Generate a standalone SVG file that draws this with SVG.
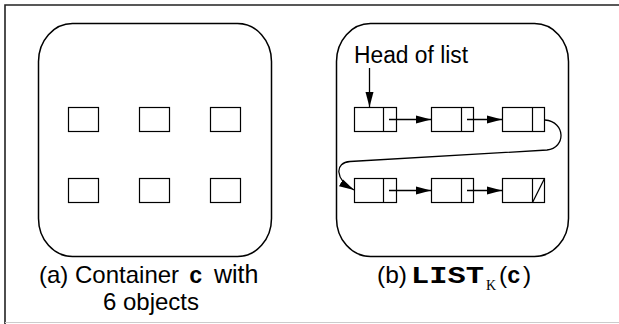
<svg xmlns="http://www.w3.org/2000/svg" width="619" height="324" viewBox="0 0 619 324">
<defs>
<style>
.frame{fill:none;stroke:#222;stroke-width:1.6}
.cont{fill:none;stroke:#000;stroke-width:1.5}
.box{fill:#fff;stroke:#000;stroke-width:1.2}
.ln{fill:none;stroke:#000;stroke-width:1.2}
.conn{fill:none;stroke:#000;stroke-width:1.3}
.sans{font-family:"Liberation Sans",Arial,sans-serif;fill:#000}
.mono{font-family:"Liberation Mono","Courier New",monospace;font-weight:bold;fill:#000}
.serif{font-family:"Liberation Serif","Times New Roman",serif;fill:#000}
</style>
<marker id="ah" markerUnits="userSpaceOnUse" markerWidth="16" markerHeight="10" refX="15" refY="5" orient="auto">
<path d="M0,1 L15,5 L0,9 Z" fill="#000"/>
</marker>
</defs>
<rect width="619" height="324" fill="#fff"/>
<g id="frame">
<path class="frame" d="M5,324 V5 H619"/>
<line x1="5" y1="322.5" x2="619" y2="322.5" stroke="#ccc" stroke-width="1"/>
</g>

<g id="container-a">
<rect class="cont" x="38.5" y="23.5" width="233" height="233" rx="34" ry="38"/>
</g>
<g id="objects-a">
<rect id="obj1" class="box" x="68.5" y="107.5" width="30" height="24"/>
<rect id="obj2" class="box" x="139.5" y="107.5" width="30" height="24"/>
<rect id="obj3" class="box" x="210.5" y="107.5" width="30" height="24"/>
<rect id="obj4" class="box" x="68.5" y="178.5" width="30" height="24"/>
<rect id="obj5" class="box" x="139.5" y="178.5" width="30" height="24"/>
<rect id="obj6" class="box" x="210.5" y="178.5" width="30" height="24"/>
</g>
<g id="caption-a">
<text class="sans" font-size="24" y="283"><tspan x="39">(a) Container</tspan><tspan class="mono" x="189" font-size="23">c</tspan><tspan x="214" font-size="25">with</tspan></text>
<text class="sans" font-size="24" x="151" y="310" text-anchor="middle">6 objects</text>
</g>

<g id="container-b">
<rect class="cont" x="336.5" y="23.5" width="232" height="233" rx="34" ry="38"/>
</g>
<g id="head-label">
<text class="sans" font-size="23" x="354" y="63" textLength="114" lengthAdjust="spacingAndGlyphs">Head of list</text>
</g>
<g id="node1"><rect class="box" x="354.5" y="107.5" width="42" height="24"/><line class="ln" x1="383.5" y1="107.5" x2="383.5" y2="131.5"/></g>
<g id="node2"><rect class="box" x="431.5" y="107.5" width="42" height="24"/><line class="ln" x1="461.5" y1="107.5" x2="461.5" y2="131.5"/></g>
<g id="node3"><rect class="box" x="502.5" y="107.5" width="42" height="24"/><line class="ln" x1="532.5" y1="107.5" x2="532.5" y2="131.5"/></g>
<g id="node4"><rect class="box" x="354.5" y="178.5" width="42" height="24"/><line class="ln" x1="383.5" y1="178.5" x2="383.5" y2="202.5"/></g>
<g id="node5"><rect class="box" x="431.5" y="178.5" width="42" height="24"/><line class="ln" x1="461.5" y1="178.5" x2="461.5" y2="202.5"/></g>
<g id="node6"><rect class="box" x="502.5" y="178.5" width="42" height="24"/><line class="ln" x1="532.5" y1="178.5" x2="532.5" y2="202.5"/><line class="ln" x1="532.5" y1="202.5" x2="544.5" y2="178.5"/></g>

<g id="connectors">
<line class="conn" x1="369.5" y1="68" x2="369.5" y2="107" marker-end="url(#ah)"/>
<line class="conn" x1="389" y1="119.5" x2="431" y2="119.5" marker-end="url(#ah)"/>
<line class="conn" x1="467" y1="119.5" x2="502" y2="119.5" marker-end="url(#ah)"/>
<path class="conn" d="M545,120 C566,122 566,148 547,150 L350,161.5 C335,162.5 334,179 354,190" marker-end="url(#ah)"/>
<line class="conn" x1="389" y1="190.5" x2="431" y2="190.5" marker-end="url(#ah)"/>
<line class="conn" x1="467" y1="190.5" x2="502" y2="190.5" marker-end="url(#ah)"/>
</g>

<g id="caption-b">
<text class="sans" font-size="24.5" y="283"><tspan x="377">(b)</tspan><tspan class="mono" x="411" font-size="23" textLength="73" lengthAdjust="spacingAndGlyphs">LIST</tspan><tspan x="499">(</tspan><tspan class="mono" x="507" font-size="23">c</tspan><tspan x="523">)</tspan></text>
<text class="serif" font-size="14" x="486" y="290">K</text>
</g>
</svg>
